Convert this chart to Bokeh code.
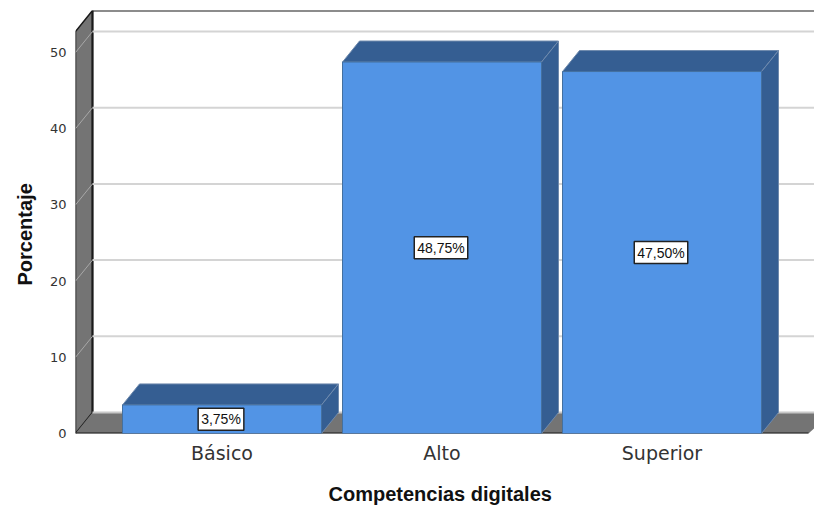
from bokeh.plotting import figure
from bokeh.models import Range1d, FixedTicker, Title
from bokeh.core.properties import value
from bokeh.embed import file_html
from bokeh.resources import INLINE

categories = ["Básico", "Alto", "Superior"]
percentages = [3.75, 48.75, 47.50]
bar_labels = ["3,75%", "48,75%", "47,50%"]
y_ticks = [0, 10, 20, 30, 40, 50]

# layout (page pixels of the reference)
PX_Y = 7.62            # pixels per percent
PX_X = 220.0           # pixels per category
BAR_W = 199 / PX_X
DX = 17 / PX_X         # depth of the 3D projection
DY = 21 / PX_Y
X0 = (75 - 221.5) / PX_X
X1 = (814 - 221.5) / PX_X
Y_TOP = (433 - 31) / PX_Y
X_FRONT_END = (808 - 221.5) / PX_X

p = figure(width=814, height=506, output_backend="svg", toolbar_location=None,
           x_range=Range1d(X0, X1), y_range=Range1d(0, Y_TOP + DY),
           min_border_left=75, min_border_right=0, min_border_top=10, min_border_bottom=73,
           frame_width=739, frame_height=423)
p.outline_line_color = None
p.grid.visible = False
p.background_fill_color = "white"

# walls
GREY = "#747474"
p.patch([X0, X0 + DX, X0 + DX, X0], [0, DY, Y_TOP + DY, Y_TOP], fill_color=GREY,
        line_color="#1a1a1a", line_width=1.5)
p.patch([X0, X0 + DX, X1 + DX, X_FRONT_END], [0, DY, DY, 0], fill_color=GREY, line_color=None)
p.line([X0, X_FRONT_END], [0, 0], line_color="#1a1a1a", line_width=2)
p.line([X0 + DX, X0 + DX], [DY, Y_TOP + DY], line_color="#1a1a1a", line_width=2)
p.line([X0 + DX, X1], [Y_TOP + DY, Y_TOP + DY], line_color="#1a1a1a", line_width=2)

# gridlines on the back and side walls
grid_ticks = [t for t in y_ticks if t > 0]
p.multi_line([[X0 + DX, X1] for _ in grid_ticks], [[t + DY, t + DY] for t in grid_ticks],
             line_color="#d4d4d4", line_width=2)
p.multi_line([[X0, X0 + DX] for _ in grid_ticks], [[t, t + DY] for t in grid_ticks],
             line_color="#a8a8a8", line_width=1)
p.line([X0 + DX, X1], [DY, DY], line_color="#c8c8c8", line_width=2)

# bars
xs = list(range(len(categories)))
FRONT, DARK, EDGE = "#5294e5", "#355e92", "#44709f"
lefts = [x - BAR_W / 2 for x in xs]
rights = [x + BAR_W / 2 for x in xs]
p.patches([[l, l + DX, r + DX, r] for l, r in zip(lefts, rights)],
          [[v, v + DY, v + DY, v] for v in percentages],
          fill_color=DARK, line_color="#6f8aad", line_width=1)
p.patches([[r, r + DX, r + DX, r] for r in rights],
          [[0, DY, v + DY, v] for v in percentages],
          fill_color=DARK, line_color="#6f8aad", line_width=1)
p.quad(left=lefts, right=rights, bottom=[0] * 3, top=percentages,
       fill_color=FRONT, line_color=EDGE, line_width=1)

# value labels
p.text(x=[x - 1 / PX_X for x in xs], y=[v / 2 for v in percentages], text=bar_labels,
       text_align="center", text_baseline="middle", text_color="#111111",
       text_font=value("Liberation Sans"), text_font_size="14px",
       background_fill_color="white", border_line_color="#222222", border_line_width=1.5,
       padding=3)

# axes
p.xaxis.ticker = FixedTicker(ticks=xs)
p.xaxis.major_label_overrides = dict(zip(xs, categories))
p.xaxis.major_label_text_font = "DejaVu Sans"
p.xaxis.major_label_text_font_size = "19px"
p.xaxis.major_label_text_color = "#333333"
p.xaxis.major_label_standoff = 2
p.xaxis.axis_line_color = None
p.xaxis.major_tick_line_color = None
p.xaxis.minor_tick_line_color = None

p.yaxis.ticker = FixedTicker(ticks=y_ticks)
p.yaxis.major_label_text_font = "DejaVu Sans"
p.yaxis.major_label_text_font_size = "13px"
p.yaxis.major_label_text_color = "#333333"
p.yaxis.major_label_standoff = 3
p.yaxis.axis_line_color = None
p.yaxis.major_tick_line_color = None
p.yaxis.minor_tick_line_color = None

# axis titles
p.add_layout(Title(text="Competencias digitales", align="left", offset=253, standoff=28,
                   text_font="Liberation Sans", text_font_style="bold",
                   text_font_size="20px", text_color="#111111"), "below")
p.add_layout(Title(text="Porcentaje", align="left", offset=148, standoff=22,
                   text_font="Liberation Sans", text_font_style="bold",
                   text_font_size="20px", text_color="#111111"), "left")

open("out.html", "w").write(file_html(p, INLINE))
